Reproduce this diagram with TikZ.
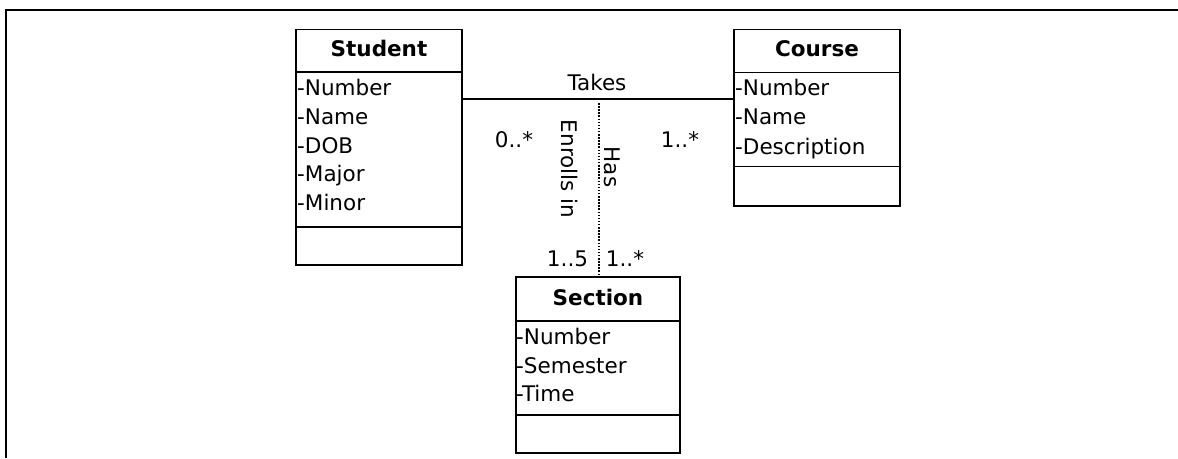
\documentclass[tikz,border=0pt]{standalone}
\usepackage{fontspec}
\setmainfont{DejaVu Sans}
\begin{document}
\begin{tikzpicture}[x=1pt,y=-1pt]
\tikzset{
 cls/.style={draw,line width=1.5pt,inner sep=0pt,rectangle},
 attr/.style={anchor=base west,inner sep=0pt,font=\fontsize{21.5}{21.5}\selectfont},
 hdr/.style={anchor=base,inner sep=0pt,font=\fontsize{21.5}{21.5}\selectfont\bfseries},
 lbl/.style={anchor=base,inner sep=0pt,font=\fontsize{21.5}{21.5}\selectfont},
 rlbl/.style={anchor=center,inner sep=0pt,rotate=-90,font=\fontsize{21.5}{21.5}\selectfont},
 divline/.style={line width=1.5pt},
 assoc/.style={line width=1.5pt},
 dotline/.style={line width=1.6pt,dash pattern=on 1.5pt off 1.6pt},
 frameline/.style={line width=2.2pt}
}
\useasboundingbox (0,0) rectangle (1178,458);
% frame
\draw[frameline] (6,458) -- (6,10) -- (1178,10);

% Student
\node[cls,minimum width=166pt,minimum height=235.5pt] (student) at (379,147.25) {};
\node[hdr] (studentH) at (379,56) {Student};
\draw[divline] (296,72) -- (462,72);
\draw[divline] (296,227) -- (462,227);
\node[attr] (s1) at (297,95.5) {-Number};
\node[attr] (s2) at (297,124.3) {-Name};
\node[attr] (s3) at (297,153.1) {-DOB};
\node[attr] (s4) at (297,181.9) {-Major};
\node[attr] (s5) at (297,210.7) {-Minor};

% Course
\node[cls,minimum width=166pt,minimum height=176.5pt] (course) at (817,117.75) {};
\node[hdr] (courseH) at (817,56) {Course};
\draw[divline] (734,72.5) -- (900,72.5);
\draw[divline] (734,166.5) -- (900,166.5);
\node[attr] (c1) at (735,95.5) {-Number};
\node[attr] (c2) at (735,124.3) {-Name};
\node[attr] (c3) at (735,154) {-Description};

% Section
\node[cls,minimum width=164pt,minimum height=176pt] (section) at (598,365) {};
\node[hdr] (sectionH) at (598,305) {Section};
\draw[divline] (516,321) -- (680,321);
\draw[divline] (516,415) -- (680,415);
\node[attr] (e1) at (516,344.5) {-Number};
\node[attr] (e2) at (516,373.2) {-Semester};
\node[attr] (e3) at (516,401) {-Time};

% connectors
\coordinate (ty) at (0,99);
\draw[assoc] (student.east |- ty) -- (course.west |- ty);
\coordinate (dtop) at (599,103);
\draw[dotline] (dtop) -- (dtop |- section.north);

% labels
\node[lbl] (takes) at (597,90) {Takes};
\node[lbl] (m1) at (514,147) {0..*};
\node[lbl] (m2) at (680,147) {1..*};
\node[rlbl] (enr) at (570,169) {Enrolls in};
\node[rlbl] (has) at (612,167) {Has};
\node[lbl] (m3) at (567.5,266) {1..5};
\node[lbl] (m4) at (625,266) {1..*};
\end{tikzpicture}
\end{document}
